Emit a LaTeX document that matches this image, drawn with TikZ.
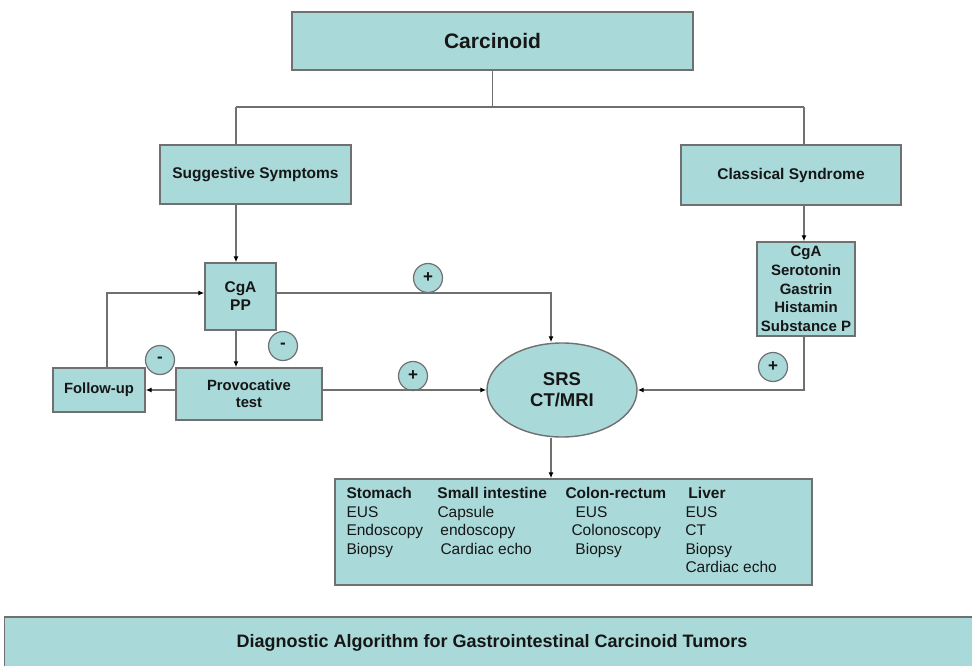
\documentclass[tikz,border=0pt]{standalone}
\usepackage{fontspec}
\setmainfont{Liberation Sans}
\usetikzlibrary{shapes.geometric,arrows.meta}
\definecolor{boxfill}{RGB}{170,217,218}
\definecolor{boxline}{RGB}{112,112,112}
\definecolor{inktext}{RGB}{22,22,22}

\begin{document}
\begin{tikzpicture}
    [x=1pt,y=-1pt,inner sep=0pt,
     box/.style={rectangle,draw=boxline,line width=1.4pt,fill=boxfill,text=inktext,align=center,
       font=\bfseries\fontsize{15.5}{18}\selectfont},
     sign/.style={circle,draw=boxline,line width=1.2pt,fill=boxfill,minimum size=29pt,text=inktext,
       font=\bfseries\fontsize{17}{17}\selectfont},
     link/.style={draw=boxline,line width=1.2pt},
     arr/.style={link,-{Latex[length=6pt,width=5pt,color=black]}}]
    \useasboundingbox (0,0) rectangle (972,666);
    \node (carc) at (492.5,41) [box,minimum width=401pt,minimum height=58pt,
      font=\bfseries\fontsize{21}{24}\selectfont] {Carcinoid};
    \node (sugg) at (255.5,174.5) [box,minimum width=191pt,minimum height=59pt] {Suggestive Symptoms};
    \node (clas) at (791,175) [box,minimum width=220pt,minimum height=60pt] {Classical Syndrome};
    \node (cgapp) at (240.5,296.5) [box,minimum width=71pt,minimum height=67pt] {CgA\\PP};
    \node (prov) at (249,394) [box,minimum width=146pt,minimum height=52pt,
      font=\bfseries\fontsize{14.8}{17}\selectfont] {Provocative\\test};
    \node (fup) at (99,390) [box,minimum width=92pt,minimum height=44pt,
      font=\bfseries\fontsize{14.8}{17}\selectfont] {Follow-up};
    \node (srs) at (562,390) [box,ellipse,minimum width=150pt,minimum height=94pt,
      font=\bfseries\fontsize{18.5}{21}\selectfont] {SRS\\CT/MRI};
    \node (horm) at (806,289) [box,minimum width=98pt,minimum height=94pt,
      font=\bfseries\fontsize{15}{18.7}\selectfont] {CgA\\Serotonin\\Gastrin\\Histamin\\Substance P};
    \node (organs) at (573.5,532) [box,minimum width=477pt,minimum height=106pt] {};
    \node (orgtext) at ([xshift=12pt]organs.west) [anchor=west,text=inktext,
      font=\fontsize{15.5}{18.6}\selectfont]
      {\begin{tabular}{@{}p{91pt}@{}p{128pt}@{}p{120pt}@{}l@{}}
        \textbf{Stomach} & \textbf{Small intestine} & \textbf{Colon-rectum} & \hspace{3pt}\textbf{Liver}\\
        EUS & Capsule & \hspace{10pt}EUS & EUS\\
        Endoscopy & \hspace{3pt}endoscopy & \hspace{6pt}Colonoscopy & CT\\
        Biopsy & \hspace{3pt}Cardiac echo & \hspace{10pt}Biopsy & Biopsy\\
         & & & Cardiac echo
      \end{tabular}};
    \node (title) at (492,643) [box,minimum width=975pt,minimum height=52pt,
      font=\bfseries\fontsize{18}{20}\selectfont] {Diagnostic Algorithm for Gastrointestinal Carcinoid Tumors};
    \node (pos1) at (428,278) [sign] {+};
    \node (pos2) at (413,376) [sign] {+};
    \node (pos3) at (773,367) [sign] {+};
    \node (neg1) at (283,346) [sign] {-};
    \node (neg2) at (160,360) [sign] {-};
    \coordinate (split) at (492.5,107);
    \coordinate (jl) at (236,107);
    \coordinate (jr) at (804,107);
    \draw [link] (carc.south) -- (split);
    \draw [link] (jl) -- (jr);
    \draw [link] (jl) -- (jl |- sugg.north);
    \draw [link] (jr) -- (jr |- clas.north);
    \draw [arr] (sugg.south -| jl) -- (cgapp.north -| jl);
    \draw [arr] (cgapp.south -| jl) -- (prov.north -| jl);
    \draw [arr] ([yshift=3.5pt]cgapp.east) -| ([xshift=-11pt]srs.north);
    \draw [arr] (prov.east |- srs.west) -- (srs.west);
    \draw [arr] (prov.west |- fup.east) -- (fup.east);
    \draw [arr] ([xshift=8pt]fup.north) |- ([yshift=3.5pt]cgapp.west);
    \draw [arr] (clas.south -| jr) -- (horm.north -| jr);
    \draw [arr] (horm.south -| jr) |- (srs.east);
    \draw [arr] ([xshift=-11pt]srs.south) -- ([xshift=-11pt]srs.south |- organs.north);
  \end{tikzpicture}
\end{document}
